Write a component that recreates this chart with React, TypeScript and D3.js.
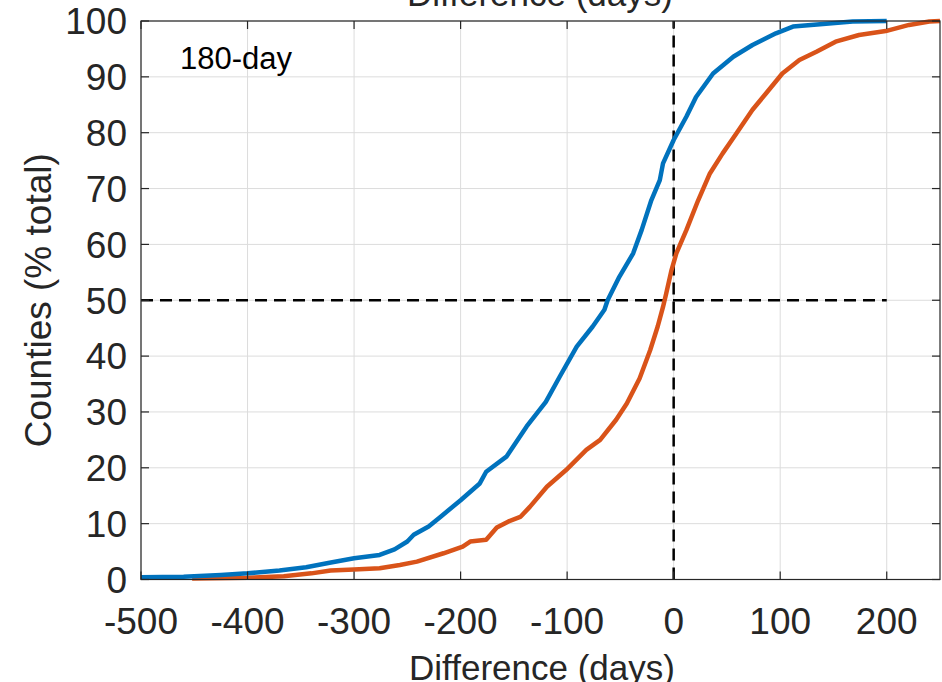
import * as d3 from 'd3';
import React from 'react';

const blueDays = [-500, -460, -425, -400, -370, -345, -323, -300, -276, -262, -250, -244, -230, -219, -200, -182, -176, -157, -138, -120, -107, -91, -76, -65, -62, -51, -38, -30, -21, -13, -10, 0, 12, 21, 37, 56, 74, 96, 112, 143, 168, 200];
const bluePct = [0.4, 0.5, 0.8, 1.1, 1.6, 2.2, 3.0, 3.8, 4.4, 5.4, 6.8, 8.0, 9.5, 11.2, 14.2, 17.2, 19.3, 22.0, 27.4, 31.8, 36.3, 41.7, 45.3, 48.3, 50.0, 54.2, 58.4, 62.6, 67.9, 71.5, 74.5, 78.7, 82.9, 86.4, 90.6, 93.6, 95.7, 97.8, 99.0, 99.5, 99.9, 100];

const orangeDays = [-452, -400, -366, -340, -322, -300, -276, -257, -241, -216, -198, -191, -176, -166, -155, -144, -135, -119, -101, -82, -69, -54, -44, -32, -22, -15, -10, -7, -2, 2.5, 12, 23, 34, 46, 59, 74, 87, 102, 118, 134, 152, 174, 199, 221, 240, 250];
const orangePct = [0.2, 0.3, 0.6, 1.1, 1.6, 1.8, 2.0, 2.6, 3.2, 4.7, 5.9, 6.8, 7.1, 9.3, 10.4, 11.2, 13.0, 16.6, 19.6, 23.2, 25.0, 28.6, 31.5, 36.0, 41.1, 45.3, 48.8, 51.2, 55.4, 58.4, 62.6, 67.9, 72.7, 76.3, 79.9, 84.1, 87.1, 90.6, 93.0, 94.5, 96.3, 97.5, 98.2, 99.3, 99.9, 100];

const xTicks = [-500, -400, -300, -200, -100, 0, 100, 200];
const yTicks = [0, 10, 20, 30, 40, 50, 60, 70, 80, 90, 100];

const W = 942;
const H = 682;
const left = 141, right = 940, top = 21, bottom = 579.5;
const axisColor = '#262626';
const font = '"Liberation Sans", Arial, Helvetica, sans-serif';

export default function App() {
  const x = d3.scaleLinear().domain([-500, 250]).range([left, right]);
  const y = d3.scaleLinear().domain([0, 100]).range([bottom, top]);

  const line = d3.line<[number, number]>()
    .x(d => x(d[0]))
    .y(d => y(d[1]));

  const blue = blueDays.map((d, i) => [d, bluePct[i]] as [number, number]);
  const orange = orangeDays.map((d, i) => [d, orangePct[i]] as [number, number]);

  return (
    <svg width={W} height={H} style={{ position: 'absolute', left: 0, top: 0, background: '#fff' }}>
      <rect x={0} y={0} width={W} height={H} fill="#fff" />
      {/* grid */}
      <g stroke="#dcdcdc" strokeWidth={1}>
        {xTicks.map(t => <line key={'gx' + t} x1={x(t)} x2={x(t)} y1={top} y2={bottom} />)}
        {yTicks.map(t => <line key={'gy' + t} x1={left} x2={right} y1={y(t)} y2={y(t)} />)}
      </g>

      {/* reference lines */}
      <line x1={x(0)} x2={x(0)} y1={y(0)} y2={y(100)} stroke="#000" strokeWidth={2.5} strokeDasharray="12,7" />
      <line x1={x(-500)} x2={x(200)} y1={y(50)} y2={y(50)} stroke="#000" strokeWidth={2.5} strokeDasharray="12,7" />

      {/* curves */}
      <path d={line(orange) || ''} fill="none" stroke="#D95319" strokeWidth={4.5} strokeLinejoin="round" />
      <path d={line(blue) || ''} fill="none" stroke="#0072BD" strokeWidth={4.5} strokeLinejoin="round" />

      {/* box + ticks */}
      <rect x={left} y={top} width={right - left} height={bottom - top} fill="none" stroke={axisColor} strokeWidth={1.2} />
      <g stroke={axisColor} strokeWidth={1.2}>
        {xTicks.map(t => (
          <g key={'tx' + t}>
            <line x1={x(t)} x2={x(t)} y1={bottom} y2={bottom - 8} />
            <line x1={x(t)} x2={x(t)} y1={top} y2={top + 8} />
          </g>
        ))}
        {yTicks.map(t => (
          <g key={'ty' + t}>
            <line x1={left} x2={left + 8} y1={y(t)} y2={y(t)} />
            <line x1={right} x2={right - 8} y1={y(t)} y2={y(t)} />
          </g>
        ))}
      </g>

      {/* tick labels */}
      <g fill={axisColor} fontFamily={font} fontSize={37}>
        {xTicks.map(t => (
          <text key={'lx' + t} x={x(t)} y={634} textAnchor="middle">{t}</text>
        ))}
        {yTicks.map(t => (
          <text key={'ly' + t} x={127} y={y(t)} dy="0.36em" textAnchor="end">{t}</text>
        ))}
      </g>

      {/* labels (title and x label are clipped by the frame in the original too) */}
      <text x={540} y={6} textAnchor="middle" fontFamily={font} fontSize={35} fill={axisColor}>Difference (days)</text>
      <text x={542} y={680} textAnchor="middle" fontFamily={font} fontSize={35} fill={axisColor}>Difference (days)</text>
      <text transform={`translate(51,${y(50)}) rotate(-90)`} textAnchor="middle" fontFamily={font} fontSize={37} fill={axisColor}>Counties (% total)</text>
      <text x={180} y={69} fontFamily={font} fontSize={31} fill="#000">180-day</text>
    </svg>
  );
}
